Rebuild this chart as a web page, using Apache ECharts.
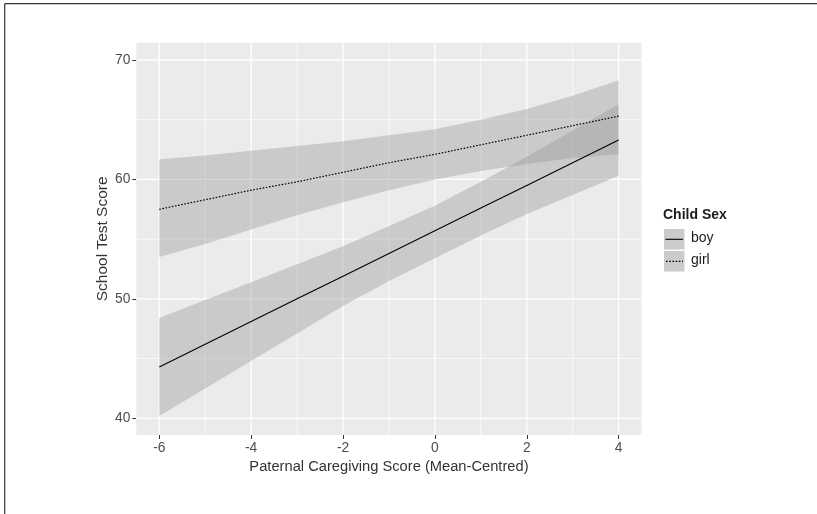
<!DOCTYPE html>
<html>
<head>
<meta charset="utf-8">
<script src="https://cdn.jsdelivr.net/npm/echarts@6/dist/echarts.min.js"></script>
<style>
  html, body { margin: 0; padding: 0; background: #fff; }
  #chart { width: 817px; height: 514px; }
</style>
</head>
<body>
<div id="chart"></div>
<script>
// x positions (paternal caregiving, mean-centred)
const xVals = [-6, -5, -4, -3, -2, -1, 0, 1, 2, 3, 4];

// boy: fitted line + confidence band
const boyFit   = [44.3, 46.2, 48.1, 50.0, 51.9, 53.8, 55.7, 57.6, 59.5, 61.4, 63.3];
const boyUpper = [48.4, 49.9, 51.4, 52.9, 54.4, 56.1, 57.8, 59.8, 61.9, 64.1, 66.3];
const boyLower = [40.2, 42.5, 44.8, 47.1, 49.4, 51.5, 53.4, 55.3, 57.1, 58.7, 60.3];

// girl: fitted line + confidence band
const girlFit   = [57.5, 58.3, 59.1, 59.8, 60.6, 61.4, 62.1, 62.9, 63.7, 64.5, 65.3];
const girlUpper = [61.7, 62.0, 62.4, 62.8, 63.2, 63.7, 64.2, 65.0, 65.9, 67.0, 68.3];
const girlLower = [53.5, 54.6, 55.8, 57.0, 58.1, 59.1, 60.0, 60.7, 61.3, 61.8, 62.1];

// axis ticks
const xMajor = [-6, -4, -2, 0, 2, 4];
const xMinor = [-5, -3, -1, 1, 3];
const yMajor = [40, 50, 60, 70];
const yMinor = [45, 55, 65];

const FONT = '"Liberation Sans", Arial, sans-serif';

let chart = echarts.init(document.getElementById('chart'), null, { renderer: 'canvas' });

function pairs(ys) {
  return xVals.map((x, i) => [x, ys[i]]);
}

// ribbon drawn as one polygon: upper edge then lower edge backwards
function band(name, upper, lower) {
  return {
    name: name,
    type: 'custom',
    silent: true,
    z: 2,
    data: [[xVals[0], lower[0]]],
    renderItem: function (params, api) {
      let pts = [];
      for (let i = 0; i < xVals.length; i++) pts.push(api.coord([xVals[i], upper[i]]));
      for (let i = xVals.length - 1; i >= 0; i--) pts.push(api.coord([xVals[i], lower[i]]));
      return {
        type: 'polygon',
        shape: { points: pts },
        style: { fill: 'rgba(153,153,153,0.4)' }
      };
    }
  };
}

// white panel grid lines
function gridLines(vals, vertical, width) {
  return {
    type: 'custom',
    silent: true,
    z: 1,
    data: vals.map(v => vertical ? [v, 50] : [0, v]),
    renderItem: function (params, api) {
      const cs = params.coordSys;
      const p = api.coord([api.value(0), api.value(1)]);
      const shape = vertical
        ? { x1: p[0], y1: cs.y, x2: p[0], y2: cs.y + cs.height }
        : { x1: cs.x, y1: p[1], x2: cs.x + cs.width, y2: p[1] };
      return { type: 'line', shape: shape, style: { stroke: '#ffffff', lineWidth: width } };
    }
  };
}

let option = {
  animation: false,
  backgroundColor: '#ffffff',
  grid: {
    left: 136.3, right: 175.4, top: 42.7, bottom: 79,
    show: true, backgroundColor: '#EBEBEB', borderWidth: 0
  },
  xAxis: {
    type: 'value',
    min: -6.5, max: 4.5,
    name: 'Paternal Caregiving Score (Mean-Centred)',
    nameLocation: 'middle',
    nameGap: 24,
    nameMoveOverlap: false,
    nameTextStyle: { fontFamily: FONT, fontSize: 14.7, color: '#333333' },
    axisLine: { show: false, onZero: false },
    axisTick: { show: true, customValues: xMajor, length: 4, lineStyle: { color: '#333333', width: 1 } },
    axisLabel: { customValues: xMajor, margin: 6, fontFamily: FONT, fontSize: 13.8, color: '#4D4D4D' },
    splitLine: { show: false }
  },
  yAxis: {
    type: 'value',
    min: 38.6, max: 71.45,
    name: 'School Test Score',
    nameLocation: 'middle',
    nameRotate: 90,
    nameGap: 26,
    nameMoveOverlap: false,
    nameTextStyle: { fontFamily: FONT, fontSize: 15.5, color: '#333333' },
    axisLine: { show: false, onZero: false },
    axisTick: { show: true, customValues: yMajor, length: 4, lineStyle: { color: '#333333', width: 1 } },
    axisLabel: { customValues: yMajor, margin: 6, fontFamily: FONT, fontSize: 13.8, color: '#4D4D4D' },
    splitLine: { show: false }
  },
  series: [
    gridLines(xMinor, true, 0.7),
    gridLines(yMinor, false, 0.7),
    gridLines(xMajor, true, 1.3),
    gridLines(yMajor, false, 1.3),
    band('boy band', boyUpper, boyLower),
    band('girl band', girlUpper, girlLower),
    {
      name: 'boy', type: 'line', z: 3, silent: true,
      data: pairs(boyFit), showSymbol: false,
      lineStyle: { color: '#000000', width: 1.1, type: 'solid' }
    },
    {
      name: 'girl', type: 'line', z: 3, silent: true,
      data: pairs(girlFit), showSymbol: false,
      lineStyle: { color: '#000000', width: 1.2, type: [1.6, 1.6] }
    }
  ],
  graphic: [
    // partial frame of the original screenshot
    { type: 'line', shape: { x1: 4.7, y1: 3.7, x2: 817, y2: 3.7 }, style: { stroke: '#333333', lineWidth: 1.2 } },
    { type: 'line', shape: { x1: 4.7, y1: 3.7, x2: 4.7, y2: 514 }, style: { stroke: '#333333', lineWidth: 1.2 } },
    // legend
    { type: 'text', left: 663, top: 208, style: { text: 'Child Sex', font: 'bold 14px ' + FONT, fill: '#1a1a1a' } },
    { type: 'rect', shape: { x: 664, y: 229, width: 20.5, height: 20.5 }, style: { fill: '#CBCBCB' } },
    { type: 'rect', shape: { x: 664, y: 251, width: 20.5, height: 20.5 }, style: { fill: '#CBCBCB' } },
    { type: 'line', shape: { x1: 665.5, y1: 239.3, x2: 683, y2: 239.3 }, style: { stroke: '#000000', lineWidth: 1.1 } },
    { type: 'line', shape: { x1: 666, y1: 261.3, x2: 683, y2: 261.3 }, style: { stroke: '#000000', lineWidth: 1.2, lineDash: [1.6, 1.6] } },
    { type: 'text', left: 691, top: 231, style: { text: 'boy', font: '14px ' + FONT, fill: '#1a1a1a' } },
    { type: 'text', left: 691, top: 253, style: { text: 'girl', font: '14px ' + FONT, fill: '#1a1a1a' } }
  ]
};

chart.setOption(option);
</script>
</body>
</html>
